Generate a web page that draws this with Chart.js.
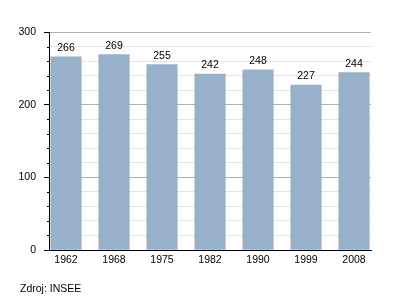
<!DOCTYPE html>
<html><head><meta charset="utf-8">
<script src="https://cdn.jsdelivr.net/npm/chart.js@4/dist/chart.umd.min.js"></script>
<style>html,body{margin:0;padding:0;background:#fff}</style>
</head><body>
<canvas id="c" width="400" height="300" style="width:400px;height:300px;display:block"></canvas>
<script>
const years = ['1962','1968','1975','1982','1990','1999','2008'];
const population = [266,269,255,242,248,227,244];
const yMin = 0, yMax = 300, yStep = 20, yMajorStep = 100;
const sourceText = 'Zdroj: INSEE';

const FONT = 'Liberation Sans, Arial, Helvetica, sans-serif';
Chart.defaults.font.family = FONT;
Chart.defaults.font.size = 10.5;
Chart.defaults.color = '#000';

const isMajor = v => v % yMajorStep === 0;

const extras = {
  id: 'extras',
  afterDatasetsDraw(chart) {
    const ctx = chart.ctx;
    const meta = chart.getDatasetMeta(0);
    ctx.save();
    ctx.font = '10.5px ' + FONT;
    ctx.fillStyle = '#000';
    ctx.textAlign = 'center';
    ctx.textBaseline = 'alphabetic';
    meta.data.forEach((bar, i) => {
      ctx.fillText(String(population[i]), bar.x, bar.y - 6);
    });
    ctx.restore();
  },
  afterDraw(chart) {
    const ctx = chart.ctx;
    const ys = chart.scales.y;
    ctx.save();
    ctx.strokeStyle = '#000';
    ctx.lineWidth = 1;
    for (let v = yMin; v <= yMax; v += yStep) {
      if (isMajor(v)) continue;
      const py = Math.round(ys.getPixelForValue(v)) + 0.5;
      ctx.beginPath();
      ctx.moveTo(ys.right - 2, py);
      ctx.lineTo(ys.right, py);
      ctx.stroke();
    }
    ctx.font = '10.5px ' + FONT;
    ctx.fillStyle = '#000';
    ctx.textAlign = 'left';
    ctx.textBaseline = 'middle';
    ctx.fillText(sourceText, 20, 289);
    ctx.restore();
  }
};

new Chart(document.getElementById('c'), {
  type: 'bar',
  data: {
    datasets: [{
      data: population.map((v, i) => ({x: i, y: v})),
      backgroundColor: '#98b1cb',
      borderWidth: 0,
      barThickness: 30.5
    }]
  },
  options: {
    responsive: false,
    animation: false,
    events: [],
    layout: { padding: { top: 32, right: 29, left: 0, bottom: 0 } },
    plugins: { legend: { display: false }, tooltip: { enabled: false } },
    scales: {
      x: {
        type: 'linear',
        min: -0.354,
        max: 6.354,
        offset: false,
        grid: { display: false, drawTicks: false },
        border: { display: true, color: '#000', width: 1 },
        ticks: {
          stepSize: 1,
          includeBounds: false,
          autoSkip: false,
          maxRotation: 0,
          padding: 4,
          callback: v => Number.isInteger(v) && years[v] !== undefined ? years[v] : ''
        },
        afterFit: s => { s.height = 50; }
      },
      y: {
        min: yMin,
        max: yMax,
        grid: {
          color: c => isMajor(c.tick.value) ? '#b0b0b0' : '#e4e4e4',
          tickColor: c => isMajor(c.tick.value) ? '#000' : 'rgba(0,0,0,0)',
          tickLength: 5
        },
        border: { display: true, color: '#000', width: 1 },
        ticks: {
          stepSize: yStep,
          autoSkip: false,
          padding: 8,
          callback: v => isMajor(v) ? String(v) : ''
        },
        afterFit: s => { s.width = 49; }
      }
    }
  },
  plugins: [extras]
});
</script>
</body></html>
